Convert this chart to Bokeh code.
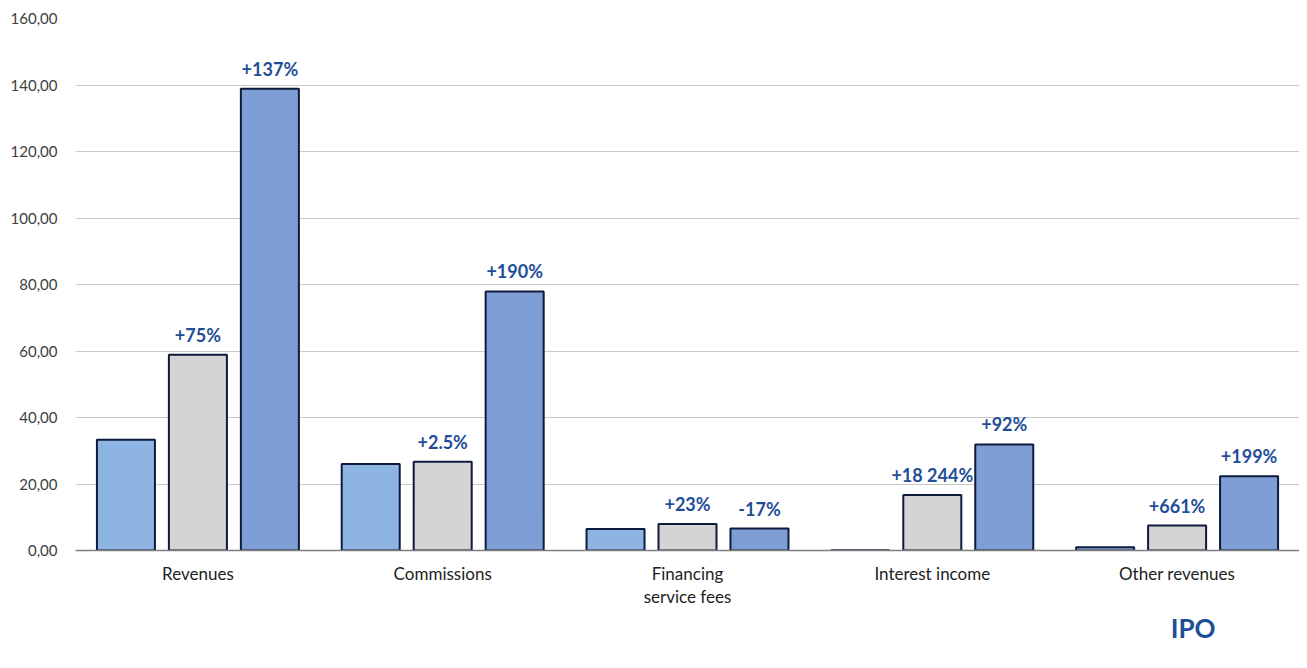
from bokeh.plotting import figure
from bokeh.models import (FactorRange, Range1d, FixedTicker, Legend, LegendItem,
                          Title, ColumnDataSource)
from bokeh.transform import dodge
from bokeh.core.properties import value
from bokeh.embed import file_html
from bokeh.resources import INLINE

categories = ["Revenues", "Commissions", "Financing\nservice fees", "Interest income", "Other revenues"]
years = ["2018", "2019", "2020"]
v2018 = [33.3, 26.0, 6.5, 0.09, 1.0]
v2019 = [58.9, 26.7, 8.0, 16.7, 7.5]
v2020 = [138.9, 77.9, 6.6, 31.9, 22.3]
pct2019 = ["+75%", "+2.5%", "+23%", "+18 244%", "+661%"]
pct2020 = ["+137%", "+190%", "-17%", "+92%", "+199%"]
yticks = [0, 20, 40, 60, 80, 100, 120, 140, 160]
ytick_labels = ["0,00", "20,00", "40,00", "60,00", "80,00", "100,00", "120,00", "140,00", "160,00"]

FONT = "Lato"
colors = ["#8DB4E2", "#D4D4D4", "#7F9ED6"]
outline = "#0E1A3B"
label_color = "#1F4E98"

src = ColumnDataSource(data=dict(cat=categories, y2018=v2018, y2019=v2019, y2020=v2020,
                                 p2019=pct2019, p2020=pct2020))

p = figure(x_range=FactorRange(*categories), y_range=Range1d(0, 160),
           frame_width=1224, frame_height=532, output_backend="svg", toolbar_location=None,
           min_border_top=18, min_border_left=75, min_border_right=0, min_border_bottom=0)
p.outline_line_color = None
p.background_fill_color = "white"

offsets = [-0.294, 0.0, 0.294]
rs = []
for off, col, key in zip(offsets, colors, ["y2018", "y2019", "y2020"]):
    r = p.vbar(x=dodge("cat", off, range=p.x_range), top=key, width=0.237, source=src,
               fill_color=col, line_color=outline, line_width=2)
    rs.append(r)

for off, key in zip(offsets[1:], ["2019", "2020"]):
    p.text(x=dodge("cat", off, range=p.x_range), y="y" + key, text="p" + key, source=src,
           text_align="center", text_baseline="bottom", y_offset=-9,
           text_font=value(FONT), text_font_style="bold", text_font_size="18px",
           text_color=label_color)

# axes
p.yaxis.ticker = FixedTicker(ticks=yticks)
p.yaxis.major_label_overrides = {t: l for t, l in zip(yticks, ytick_labels)}
p.yaxis.axis_line_color = None
p.yaxis.major_tick_line_color = None
p.yaxis.minor_tick_line_color = None
p.yaxis.major_label_text_font = FONT
p.yaxis.major_label_text_font_size = "15px"
p.yaxis.major_label_text_color = "#404040"
p.yaxis.major_label_standoff = 12

p.xaxis.axis_line_color = "#7F7F7F"
p.xaxis.axis_line_width = 1.5
p.xaxis.major_tick_line_color = None
p.xaxis.minor_tick_line_color = None
p.xaxis.major_tick_out = 0
p.xaxis.major_tick_in = 0
p.xaxis.axis_label_standoff = 0
p.xaxis.major_label_text_font = FONT
p.xaxis.major_label_text_font_size = "17px"
p.xaxis.major_label_text_line_height = 1.1
p.xaxis.major_label_text_color = "#222222"
p.xaxis.major_label_standoff = 12

p.xgrid.grid_line_color = None
p.ygrid.grid_line_color = "#C8C8C8"
p.ygrid.grid_line_width = 1.2

ipo = Title(text="IPO", align="right", offset=84, standoff=0,
            text_font=FONT, text_font_style="bold", text_font_size="26px",
            text_line_height=1.0, text_color=label_color)
p.add_layout(ipo, "below")

legend = Legend(items=[LegendItem(label=y, renderers=[r]) for y, r in zip(years, rs)],
                orientation="horizontal", location="top_center",
                label_text_font=FONT, label_text_font_size="19px", label_text_color="#222222",
                label_text_line_height=1.0,
                glyph_width=13, glyph_height=13, label_standoff=4, spacing=18,
                label_height=14,
                border_line_color=None, background_fill_alpha=0, padding=0, margin=0)
p.add_layout(legend, "below")

open("out.html", "w").write(file_html(p, INLINE))
